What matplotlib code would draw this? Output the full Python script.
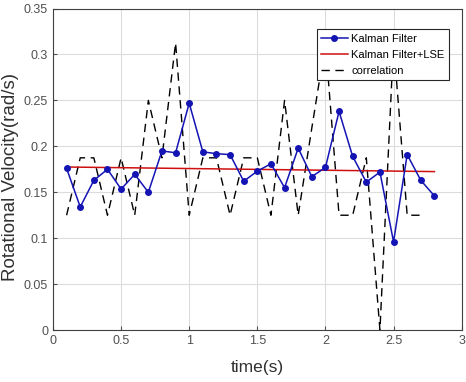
import numpy as np
import matplotlib.pyplot as plt

plt.rcParams['font.family'] = ['Liberation Sans', 'DejaVu Sans']

# time axis (s)
t = np.round(np.arange(1, 29) * 0.1, 2)

# Kalman Filter estimate
kalman = [0.176, 0.134, 0.163, 0.175, 0.1535, 0.1695, 0.150, 0.195, 0.193, 0.247,
          0.194, 0.192, 0.191, 0.162, 0.173, 0.181, 0.155, 0.198, 0.167, 0.177,
          0.238, 0.189, 0.161, 0.172, 0.096, 0.191, 0.163, 0.146]

# Kalman Filter + LSE (fitted line)
lse_t = [0.1, 2.8]
lse = [0.1775, 0.1725]

# correlation method
corr_t = np.round(np.arange(1, 28) * 0.1, 2)
corr = [0.125, 0.1875, 0.1875, 0.125, 0.1875, 0.125, 0.25, 0.1875, 0.3125, 0.125,
        0.1875, 0.1875, 0.125, 0.1875, 0.1875, 0.125, 0.25, 0.125, 0.22, 0.3125,
        0.125, 0.125, 0.1875, 0.0, 0.3125, 0.125, 0.125]

fig = plt.figure(figsize=(4.66, 3.82), dpi=100)
ax = fig.add_axes([0.1137, 0.136, 0.877, 0.8416])

ax.plot(t, kalman, color='#1414b4', marker='o', markersize=4, linewidth=1.1,
        label='Kalman Filter', zorder=3)
ax.plot(lse_t, lse, color='#d01010', linewidth=1.1, label='Kalman Filter+LSE', zorder=2)
ax.plot(corr_t, corr, color='black', linestyle=(0, (6, 4)), linewidth=1.0,
        label='correlation', zorder=1)

ax.set_xlim(0, 3)
ax.set_ylim(0, 0.35)
ax.set_xticks([0, 0.5, 1, 1.5, 2, 2.5, 3])
ax.set_xticklabels(['0', '0.5', '1', '1.5', '2', '2.5', '3'])
ax.set_yticks(np.arange(0, 0.351, 0.05))
ax.set_yticklabels(['0', '0.05', '0.1', '0.15', '0.2', '0.25', '0.3', '0.35'])
ax.grid(True, color='#dcdcdc', linewidth=0.8)
ax.set_axisbelow(True)
ax.tick_params(direction='in', length=3, labelsize=9, colors='#505050')
for s in ax.spines.values():
    s.set_color('#404040')
    s.set_linewidth(0.8)

ax.set_xlabel('time(s)', fontsize=12.5, color='#303030')
ax.set_ylabel('Rotational Velocity(rad/s)', fontsize=13.5, color='#303030')
ax.xaxis.set_label_coords(0.5, -0.093)
ax.yaxis.set_label_coords(-0.082, 0.476)

leg = ax.legend(loc='upper right', bbox_to_anchor=(0.982, 0.953), fontsize=8,
                fancybox=False, framealpha=1, edgecolor='#262626',
                handlelength=2.4, borderpad=0.4, labelspacing=0.55, handletextpad=0.3)
leg.get_frame().set_linewidth(0.8)

fig.savefig('out.png', dpi=100)
